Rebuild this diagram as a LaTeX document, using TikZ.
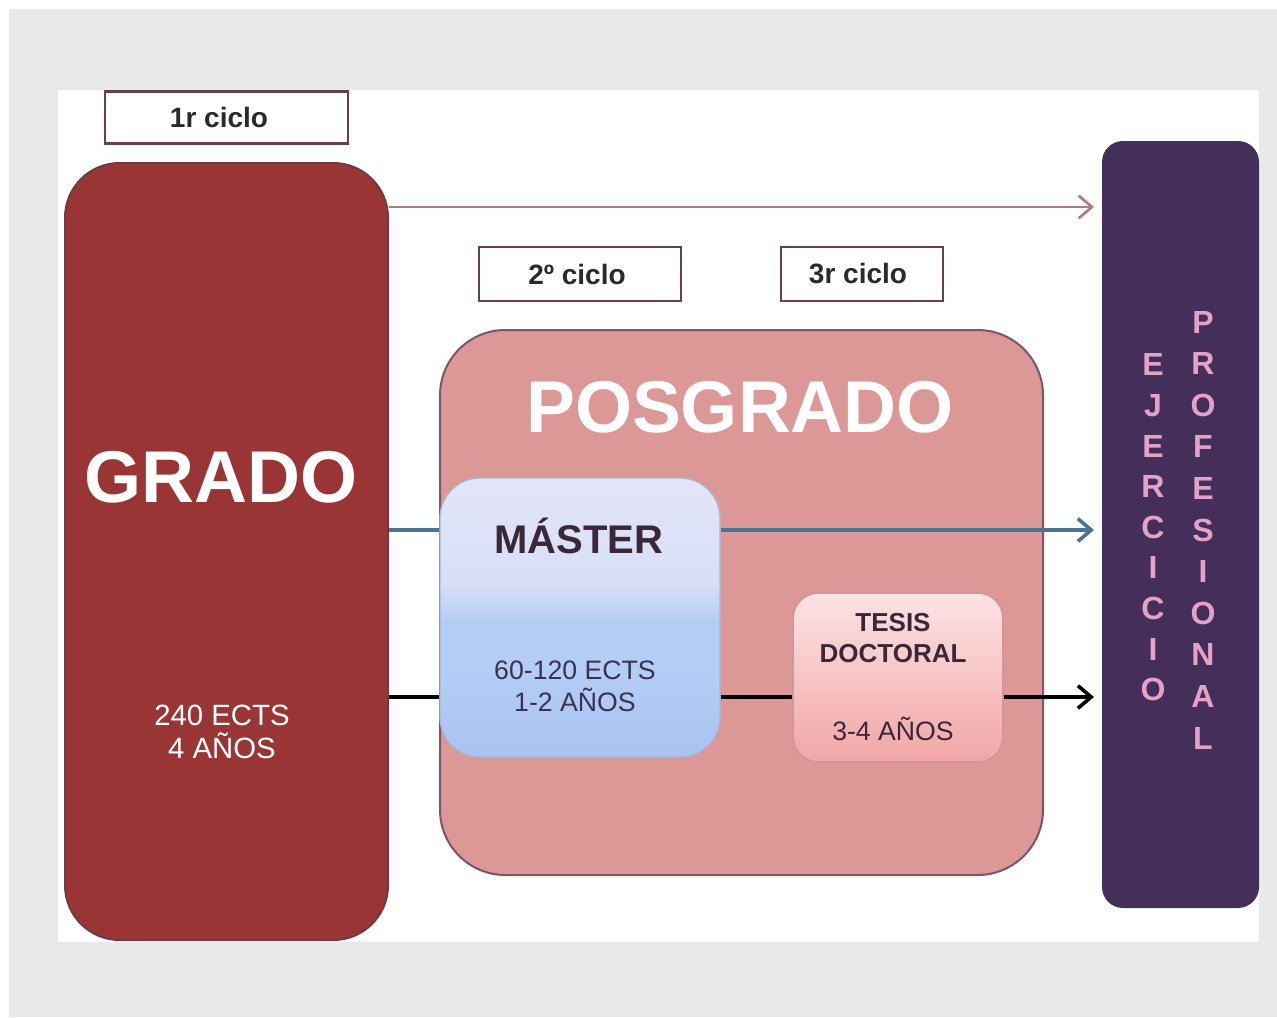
\documentclass[tikz,border=0pt]{standalone}
\usepackage{fontspec}
\setmainfont{Liberation Sans}
\usetikzlibrary{arrows.meta}
\definecolor{bggray}{HTML}{E9E9E9}
\definecolor{gradofill}{HTML}{9A3535}
\definecolor{gradoline}{HTML}{6E3A48}
\definecolor{posfill}{HTML}{DC9797}
\definecolor{posline}{HTML}{7E5466}
\definecolor{epfill}{HTML}{432F5A}
\definecolor{epletter}{HTML}{E4A2C8}
\definecolor{cicloline}{HTML}{6A4048}
\definecolor{darktext}{HTML}{2A2A2A}
\definecolor{plumtext}{HTML}{3A2838}
\definecolor{mastext}{HTML}{3A3252}
\definecolor{mtop}{HTML}{E4E5F8}
\definecolor{mmid}{HTML}{D6DFF7}
\definecolor{mlow}{HTML}{B4CDF5}
\definecolor{mbot}{HTML}{A8C4F2}
\definecolor{mline}{HTML}{A9B7D6}
\definecolor{ttop}{HTML}{FCE3E3}
\definecolor{tbot}{HTML}{F1A6A6}
\definecolor{tline}{HTML}{D3959A}
\definecolor{toparrowc}{HTML}{B07A7E}
\definecolor{bluearrowc}{HTML}{4C7393}
\pgfdeclareverticalshading{mastershade}{100bp}{color(0bp)=(mbot); color(25bp)=(mbot); color(40bp)=(mlow); color(49bp)=(mlow); color(56bp)=(mmid); color(75bp)=(mtop); color(100bp)=(mtop)}
\begin{document}
\begin{tikzpicture}[x=0.75pt,y=-0.75pt,
  bigbox/.style={draw, line width=1.5pt, inner sep=0pt},
  ciclobox/.style={draw=cicloline, fill=white, line width=2pt, inner sep=0pt, minimum height=39pt},
  ciclotext/.style={text=darktext, font=\bfseries\fontsize{21}{25}\selectfont},
  bigtitle/.style={text=white, font=\bfseries\fontsize{55}{60}\selectfont, inner sep=0pt},
  smalltext/.style={inner sep=0pt, align=center},
  letters/.style={text=epletter, inner sep=0pt, align=center},
  link/.style={line width=2.7pt},
  tip/.style={-{Straight Barb[length=10pt,width=17pt]}, shorten >=6pt}
]
\useasboundingbox (0,0) rectangle (1277,1017);
\fill[white] (0,0) rectangle (1277,1017);
\fill[bggray] (9,9) rectangle (1277,1017);
\fill[white] (58,90) rectangle (1259,942);

% main boxes
\node[bigbox, draw=gradoline, fill=gradofill, rounded corners=41pt,
      minimum width=242.25pt, minimum height=582.75pt] (grado) at (226.5,551.5) {};
\node[bigbox, draw=posline, fill=posfill, rounded corners=49pt,
      minimum width=452.25pt, minimum height=408.75pt] (posgrado) at (741.5,602.5) {};
\node[bigbox, draw=mline, line width=1pt, shading=mastershade, rounded corners=30pt,
      minimum width=210pt, minimum height=209.25pt] (master) at (580,617.5) {};
\node[bigbox, draw=tline, line width=1.2pt, top color=ttop, bottom color=tbot, rounded corners=19pt,
      minimum width=157.5pt, minimum height=126.75pt] (tesis) at (898,677.5) {};
\node[bigbox, draw=epfill, fill=epfill, rounded corners=15pt,
      minimum width=116.25pt, minimum height=573.75pt] (ep) at (1180.5,524.5) {};

% ciclo labels
\node[ciclobox, minimum width=182.25pt] (c1) at (226.5,117.5) {};
\node[ciclotext] (c1t) at (219,117) {1r ciclo};
\node[ciclobox, minimum width=151.5pt, minimum height=40.5pt] (c2) at (580,274) {};
\node[ciclotext] (c2t) at (577,274) {2º ciclo};
\node[ciclobox, minimum width=121.5pt, minimum height=40.5pt] (c3) at (862,274) {};
\node[ciclotext] (c3t) at (858,274) {3r ciclo};

% texts
\node[bigtitle] (gradot) at (221,477) {GRADO};
\node[bigtitle] (posgradot) at (740,407) {POSGRADO};
\node[inner sep=0pt, text=plumtext, font=\bfseries\fontsize{30}{34}\selectfont] (mastert) at (579,536) {MÁSTER};
\node[smalltext, text=white, font=\fontsize{22}{24.75}\selectfont] (gradoinfo) at (222,731.5) {240 ECTS\\4 AÑOS};
\node[smalltext, text=mastext, font=\fontsize{20}{24}\selectfont] (masterinfo) at (575,686) {60-120 ECTS\\1-2 AÑOS};
\node[smalltext, text=plumtext, font=\bfseries\fontsize{19.5}{23.25}\selectfont] (tesist) at (893,638.5) {TESIS\\DOCTORAL};
\node[smalltext, text=plumtext, font=\fontsize{20}{24}\selectfont] (tesisinfo) at (893,729) {3-4 AÑOS};
\node[letters, font=\bfseries\fontsize{24}{30.45}\selectfont] (ejer) at (1153,527.5) {E\\J\\E\\R\\C\\I\\C\\I\\O};
\node[letters, font=\bfseries\fontsize{24}{31.2}\selectfont] (prof) at (1203,530) {P\\R\\O\\F\\E\\S\\I\\O\\N\\A\\L};

% connectors
\coordinate (ya) at (0,207);
\coordinate (yb) at (0,530);
\coordinate (yc) at (0,697);
\draw[link, line width=2pt, draw=toparrowc, tip] (grado.east |- ya) -- (ep.west |- ya);
\draw[link, draw=bluearrowc] (grado.east |- yb) -- (master.west |- yb);
\draw[link, draw=bluearrowc, tip] (master.east |- yb) -- (ep.west |- yb);
\draw[link, draw=black] (grado.east |- yc) -- (master.west |- yc);
\draw[link, draw=black] (master.east |- yc) -- (tesis.west |- yc);
\draw[link, draw=black, tip] (tesis.east |- yc) -- (ep.west |- yc);
\end{tikzpicture}
\end{document}
